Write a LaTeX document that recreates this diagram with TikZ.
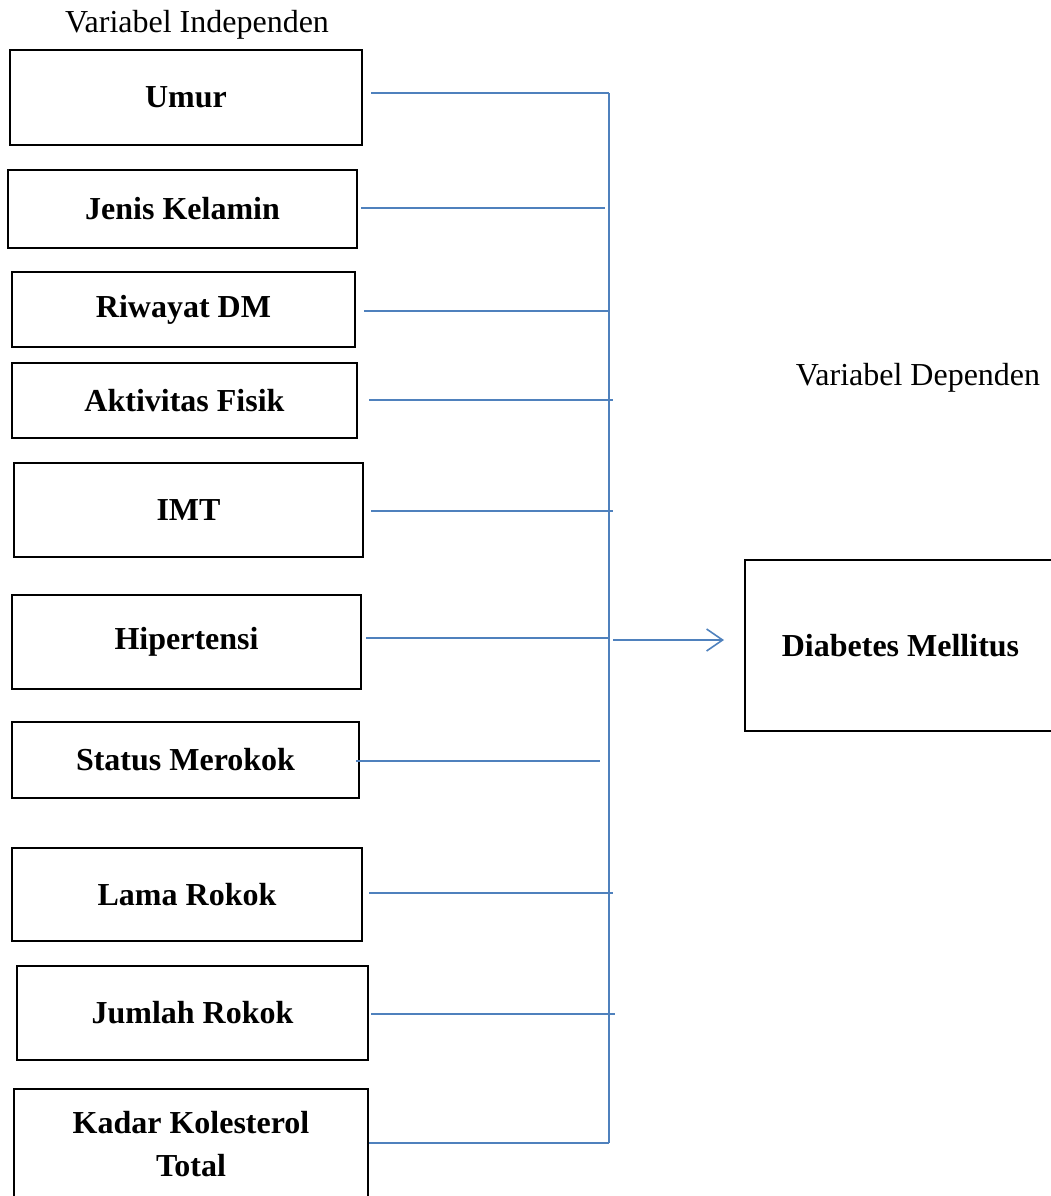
\documentclass[tikz,border=0pt]{standalone}
\usepackage{fontspec}
\setmainfont{Liberation Serif}
\usetikzlibrary{calc,arrows.meta}
\definecolor{linkblue}{RGB}{79,129,189}
\begin{document}
\begin{tikzpicture}[x=1pt,y=-1pt,
  varbox/.style={draw=black, line width=2pt, inner sep=0pt, align=center,
    font=\bfseries\fontsize{32}{43}\selectfont},
  link/.style={draw=linkblue, line width=1.6pt},
  heading/.style={font=\fontsize{32}{38}\selectfont, inner sep=0pt}]
\useasboundingbox (0,0) rectangle (1051,1196);

\node[heading] (hind) at (197,25) {Variabel Independen};
\node[heading] (hdep) at (918,378) {Variabel Dependen};

\node[varbox, minimum width=352, minimum height=95] (umur)   at (186,97.5)  {Umur};
\node[varbox, minimum width=349, minimum height=78] (jk)     at (182.5,209) {Jenis Kelamin};
\node[varbox, minimum width=343, minimum height=75] (riw)    at (183.5,309.5) {Riwayat DM};
\node[varbox, minimum width=345, minimum height=75] (akt)    at (184.5,400.5) {Aktivitas Fisik};
\node[varbox, minimum width=349, minimum height=94] (imt)    at (188.5,510) {IMT};
\node[varbox, minimum width=349, minimum height=94] (hip)    at (186.5,642) {Hipertensi};
\node[varbox, minimum width=347, minimum height=76] (stat)   at (185.5,760) {Status Merokok};
\node[varbox, minimum width=350, minimum height=93] (lama)   at (187,894.5) {Lama Rokok};
\node[varbox, minimum width=351, minimum height=94] (jml)    at (192.5,1013) {Jumlah Rokok};
\node[varbox, minimum width=354, minimum height=111] (kol)   at (191,1144.5) {Kadar Kolesterol\\Total};
\node[varbox, minimum width=311, minimum height=171] (dm)    at (900.5,645.5) {Diabetes Mellitus};

\coordinate (b1) at (609,93);
\coordinate (b2) at (605,208);
\coordinate (b3) at (609,311);
\coordinate (b4) at (613,400);
\coordinate (b5) at (613,511);
\coordinate (b6) at (609,638);
\coordinate (b7) at (600,761);
\coordinate (b8) at (613,893);
\coordinate (b9) at (615,1014);
\coordinate (b10) at (609,1143);
\coordinate (arr) at (613,640);

\draw[link] ($(umur.east |- b1)+(8,0)$) -- (b1);
\draw[link] ($(jk.east |- b2)+(3,0)$) -- (b2);
\draw[link] ($(riw.east |- b3)+(8,0)$) -- (b3);
\draw[link] ($(akt.east |- b4)+(11,0)$) -- (b4);
\draw[link] ($(imt.east |- b5)+(7,0)$) -- (b5);
\draw[link] ($(hip.east |- b6)+(4,0)$) -- (b6);
\draw[link] ($(stat.east |- b7)+(-4,0)$) -- (b7);
\draw[link] ($(lama.east |- b8)+(6,0)$) -- (b8);
\draw[link] ($(jml.east |- b9)+(2,0)$) -- (b9);
\draw[link] ($(kol.east |- b10)+(0,0)$) -- (b10);
\draw[link] (b1) -- (b10);
\draw[link, -{Straight Barb[length=16pt,width=22pt]}] (arr) -- ($(dm.west |- arr)+(-20,0)$);
\end{tikzpicture}
\end{document}
